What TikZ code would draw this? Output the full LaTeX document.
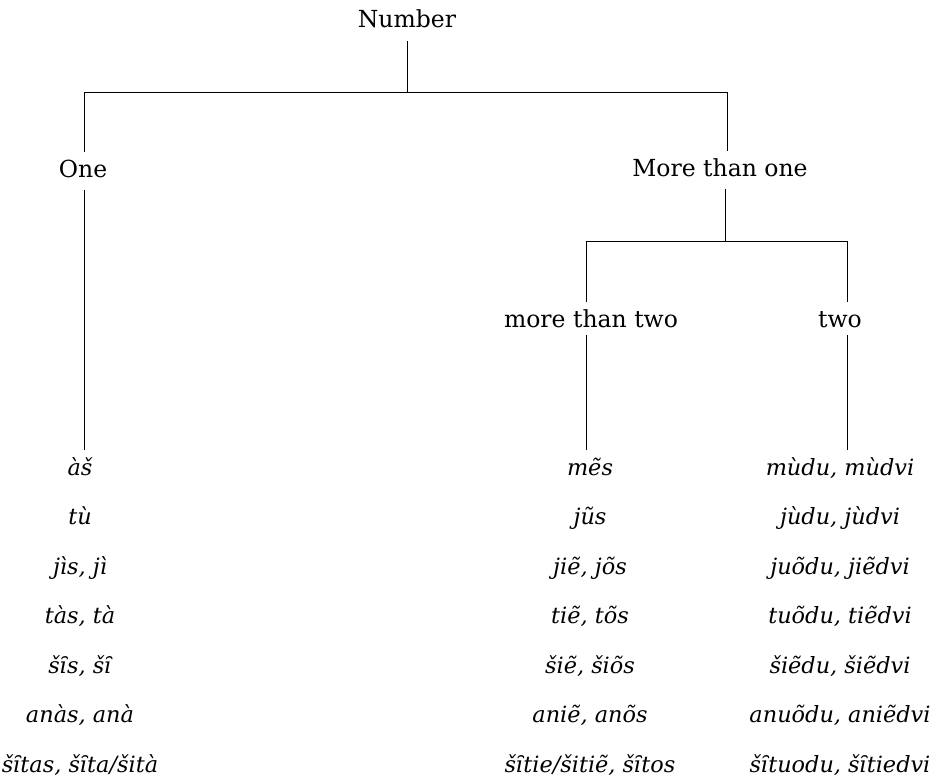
\documentclass[tikz,border=0pt]{standalone}
\usepackage{fontspec}
\setmainfont{DejaVu Serif}
\begin{document}
\begin{tikzpicture}[x=1pt,y=-1pt,line width=0.9pt,
  cat/.style={anchor=base,inner xsep=2pt,inner ysep=8pt,text height=17pt,text depth=5pt,
    font=\fontsize{23.5}{28}\selectfont},
  sub/.style={cat,text depth=0pt},
  form/.style={anchor=base,inner xsep=2pt,inner ysep=8pt,text height=17pt,text depth=5pt,
    font=\fontsize{22.4}{27}\selectfont\itshape}]
\useasboundingbox (0,0) rectangle (941,778);

% category labels
\node[cat] (num)  at (407,28)  {Number};
\node[cat] (one)  at (83,177)  {One};
\node[cat] (more) at (720,176) {More than one};
\node[sub] (mtt)  at (591,327) {more than two};
\node[sub] (two)  at (840,327) {two};

% junction points of the brackets
\coordinate (barL)  at (84,92);
\coordinate (barR)  at (727,92);
\coordinate (bar2M) at (725,241);
\coordinate (bar2L) at (586,241);
\coordinate (bar2R) at (847,241);

% word forms, one row per pronoun
\foreach \y/\a/\b/\c [count=\i] in {
  475/àš/mẽs/{mùdu, mùdvi},
  524.5/tù/jũs/{jùdu, jùdvi},
  574/{jìs, jì}/{jiẽ, jõs}/{juõdu, jiẽdvi},
  623.5/{tàs, tà}/{tiẽ, tõs}/{tuõdu, tiẽdvi},
  673/{šȋs, šȋ}/{šiẽ, šiõs}/{šiẽdu, šiẽdvi},
  722.5/{anàs, anà}/{aniẽ, anõs}/{anuõdu, aniẽdvi},
  772/{šȋtas, šȋta/šità}/{šȋtie/šitiẽ, šȋtos}/{šȋtuodu, šȋtiedvi}}{
  \node[form] (l\i) at (80,\y)  {\a};
  \node[form] (m\i) at (590,\y) {\b};
  \node[form] (r\i) at (840,\y) {\c};
}

% tree connectors
\draw (num.south) -- (num.south |- barL);
\draw (barL |- one.north) -- (barL) -- (barR) -- (barR |- more.north);
\draw (barL |- one.south) -- (barL |- l1.north);
\draw (bar2M |- more.south) -- (bar2M);
\draw (bar2L |- mtt.north) -- (bar2L) -- (bar2R) -- (bar2R |- two.north);
\draw (bar2L |- mtt.south) -- (bar2L |- m1.north);
\draw (bar2R |- two.south) -- (bar2R |- r1.north);
\end{tikzpicture}
\end{document}
